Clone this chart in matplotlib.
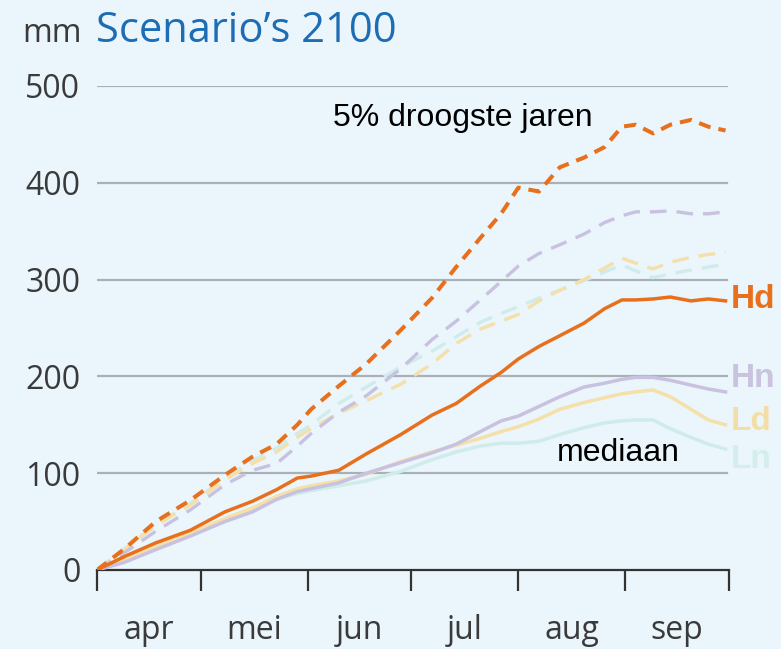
import matplotlib
matplotlib.use("Agg")
import matplotlib.pyplot as plt

# dagen sinds 1 april
days = [0, 8, 17, 27, 37, 45, 52, 58, 62, 70, 78, 88, 97, 104, 111, 117,
        122, 128, 134, 141, 147, 152, 156, 161, 166, 172, 177, 182]

# 5% droogste jaren (gestreept)
hd_dry = [0, 22, 50, 72, 98, 117, 130, 150, 166, 190, 213, 248, 281, 313, 343, 368,
          395, 391, 416, 426, 437, 458, 460, 451, 460, 465, 458, 454]
hn_dry = [0, 18, 40, 62, 88, 103, 110, 128, 141, 163, 180, 208, 238, 257, 279, 298,
          314, 327, 336, 347, 359, 366, 370, 370, 371, 368, 368, 370]
ld_dry = [0, 21, 46, 67, 93, 110, 122, 137, 146, 162, 175, 192, 213, 234, 249, 257,
          264, 278, 289, 300, 312, 322, 317, 311, 318, 323, 326, 328]
ln_dry = [0, 22, 47, 69, 95, 113, 126, 141, 150, 172, 189, 210, 226, 241, 256, 265,
          272, 281, 289, 299, 308, 315, 309, 302, 306, 310, 313, 316]

# mediaan (doorgetrokken)
hd_med = [0, 14, 28, 41, 60, 71, 83, 95, 97, 103, 120, 140, 160, 172, 190, 204,
          218, 231, 242, 255, 270, 279, 279, 280, 282, 278, 280, 278]
hn_med = [0, 8, 21, 35, 50, 60, 73, 81, 84, 90, 100, 111, 121, 130, 143, 154,
          159, 169, 179, 189, 193, 197, 199, 199, 196, 191, 187, 184]
ld_med = [0, 11, 24, 38, 53, 64, 76, 84, 87, 92, 99, 112, 122, 129, 136, 143,
          148, 156, 166, 173, 178, 182, 184, 186, 179, 166, 155, 150]
ln_med = [0, 11, 24, 37, 52, 62, 73, 79, 82, 87, 92, 102, 114, 122, 128, 131,
          131, 133, 140, 147, 152, 154, 155, 155, 146, 137, 130, 125]

month_starts = [0, 30, 61, 91, 122, 153, 183]
months = ["apr", "mei", "jun", "jul", "aug", "sep"]
yticks = [0, 100, 200, 300, 400, 500]

bg = "#EAF5FC"
c_hd = "#E8701C"
c_hn = "#C8C2E0"
c_ld = "#F4E0A8"
c_ln = "#D0ECEA"

fig = plt.figure(figsize=(7.81, 6.49), dpi=100, facecolor=bg)
ax = fig.add_axes([97 / 781, 1 - 570 / 649, (729 - 97) / 781, (570 - 86) / 649])
ax.set_facecolor(bg)
ax.set_xlim(0, 183)
ax.set_ylim(0, 500)

for y in yticks[1:]:
    ax.axhline(y, xmin=0, xmax=182.5 / 183, color="#A9B1B5", lw=1.6, zorder=1)

dash_pale = (0, (5, 3))
ax.plot(days, ln_dry, color=c_ln, lw=2.4, ls=dash_pale, zorder=2)
ax.plot(days, ld_dry, color=c_ld, lw=2.4, ls=dash_pale, zorder=2)
ax.plot(days, hn_dry, color=c_hn, lw=2.4, ls=dash_pale, zorder=3)
ax.plot(days, hd_dry, color=c_hd, lw=2.9, ls=(0, (3.0, 2.0)), zorder=5)

ax.plot(days, ln_med, color=c_ln, lw=2.5, zorder=2)
ax.plot(days, ld_med, color=c_ld, lw=2.5, zorder=2)
ax.plot(days, hn_med, color=c_hn, lw=2.5, zorder=3)
ax.plot(days, hd_med, color=c_hd, lw=2.5, zorder=5)

for s in ["top", "right", "left"]:
    ax.spines[s].set_visible(False)
ax.spines["bottom"].set_color("#333333")
ax.spines["bottom"].set_linewidth(1.6)

tick_font = dict(family="Open Sans", size=23, color="#3A3A3A")
ax.set_yticks(yticks)
ax.set_yticklabels([str(v) for v in yticks], **tick_font)
ax.tick_params(axis="y", length=0, pad=12)

ax.set_xticks(month_starts)
ax.set_xticklabels([])
ax.tick_params(axis="x", which="major", length=15, width=1.6, color="#333333", direction="out")
mids = [(month_starts[i] + month_starts[i + 1]) / 2 for i in range(len(months))]
ax.set_xticks(mids, minor=True)
ax.set_xticklabels(months, minor=True, **tick_font)
ax.tick_params(axis="x", which="minor", length=0, pad=32)

fig.text(22 / 781, 1 - 33 / 649, "mm", ha="left", va="center", **tick_font)
fig.text(96 / 781, 1 - 31 / 649, "Scenario\u2019s 2100", ha="left", va="center",
         family="Open Sans", size=30, color="#1C6DB3")

fig.text(333 / 781, 1 - 118 / 649, "5% droogste jaren", ha="left", va="center",
         family="Liberation Sans", size=23, color="black")
fig.text(557 / 781, 1 - 453 / 649, "mediaan", ha="left", va="center",
         family="Liberation Sans", size=23, color="black")

lab = dict(family="Liberation Sans", weight="bold", size=24, ha="left", va="center")
fig.text(731 / 781, 1 - 300 / 649, "Hd", color=c_hd, **lab)
fig.text(731 / 781, 1 - 378 / 649, "Hn", color="#C9C3DF", **lab)
fig.text(731 / 781, 1 - 422 / 649, "Ld", color="#F3DFA6", **lab)
fig.text(731 / 781, 1 - 460 / 649, "Ln", color="#D4EEEC", **lab)

fig.savefig("out.png", dpi=100, facecolor=bg)
